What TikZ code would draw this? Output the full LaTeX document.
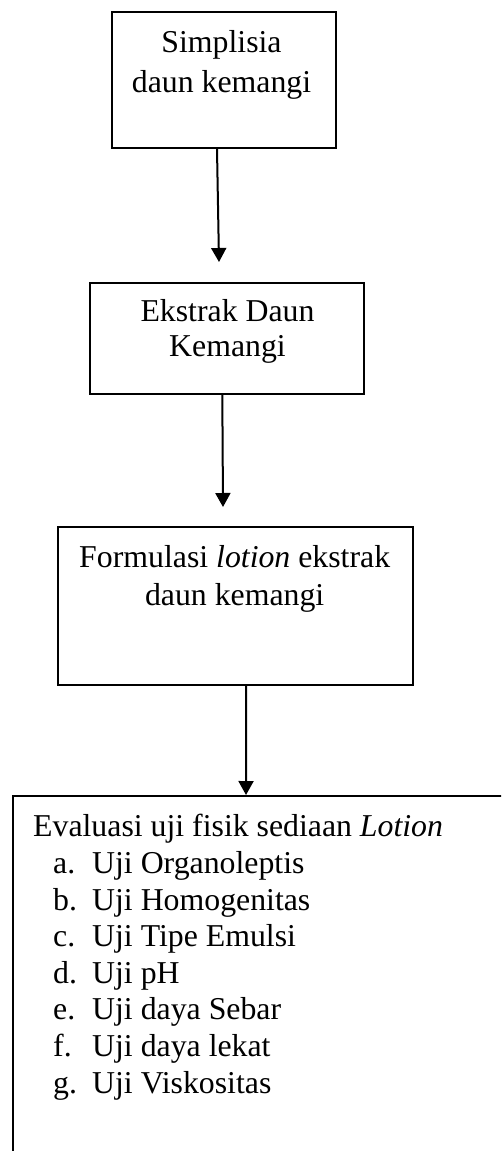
\documentclass[tikz,border=0pt]{standalone}
\usepackage{fontspec}
\setmainfont{Liberation Serif}
\usepackage{tikz}
\usetikzlibrary{arrows.meta,positioning}

\tikzset{
  box/.style={draw, line width=2pt, rectangle, inner sep=0pt},
  txt/.style={inner sep=0pt, align=center},
  arr/.style={line width=2pt, -{Triangle[length=14pt,width=15pt]}}
}

\begin{document}
\begin{tikzpicture}[x=1pt, y=-1pt, font=\fontsize{31.8}{40}\selectfont]
        \useasboundingbox (0,0) rectangle (501,1151);
        \clip (0,0) rectangle (501,1151);

        \node[box, minimum width=224pt, minimum height=136pt] (simplisia) at (223.6,80.2) {};
        \node[box, minimum width=274pt, minimum height=111pt] (ekstrak) at (227,338.4) {};
        \node[box, minimum width=355pt, minimum height=158pt] (formulasi) at (235.5,606) {};
        \node[box, minimum width=600pt, minimum height=500pt] (evaluasi) at (313,1046) {};

        % base anchor sits on the last line
        \node[txt, anchor=base] (simplisiaT) at (221.5,92) {Simplisia\\daun kemangi};
        \node[txt, anchor=base, font=\fontsize{31.8}{35}\selectfont] (ekstrakT) at (227.5,356.7) {Ekstrak Daun\\Kemangi};
        \node[txt, anchor=base, font=\fontsize{31.8}{38}\selectfont] (formulasiT) at (234.7,605) {Formulasi \textit{lotion} ekstrak\\daun kemangi};
        \node[inner sep=0pt, align=left, anchor=base west, font=\fontsize{31.8}{36.6}\selectfont] (evaluasiT) at (33,1093) {Evaluasi uji fisik sediaan \textit{Lotion}\\
          \hspace*{20pt}\makebox[39pt][l]{a.}Uji Organoleptis\\
          \hspace*{20pt}\makebox[39pt][l]{b.}Uji Homogenitas\\
          \hspace*{20pt}\makebox[39pt][l]{c.}Uji Tipe Emulsi\\
          \hspace*{20pt}\makebox[39pt][l]{d.}Uji pH\\
          \hspace*{20pt}\makebox[39pt][l]{e.}Uji daya Sebar\\
          \hspace*{20pt}\makebox[39pt][l]{f.}Uji daya lekat\\
          \hspace*{20pt}\makebox[39pt][l]{g.}Uji Viskositas};

        % arrow tips stop short of the next box
        \coordinate (tip1) at (219,262);
        \coordinate (tip2) at (223,507);

        \draw[arr] ([xshift=-6.6pt]simplisia.south) -- (tip1);
        \draw[arr] ([xshift=-4.7pt]ekstrak.south) -- (tip2);
        \draw[arr] ([xshift=10.7pt]formulasi.south) -- ([xshift=-67pt]evaluasi.north);
\end{tikzpicture}
\end{document}
